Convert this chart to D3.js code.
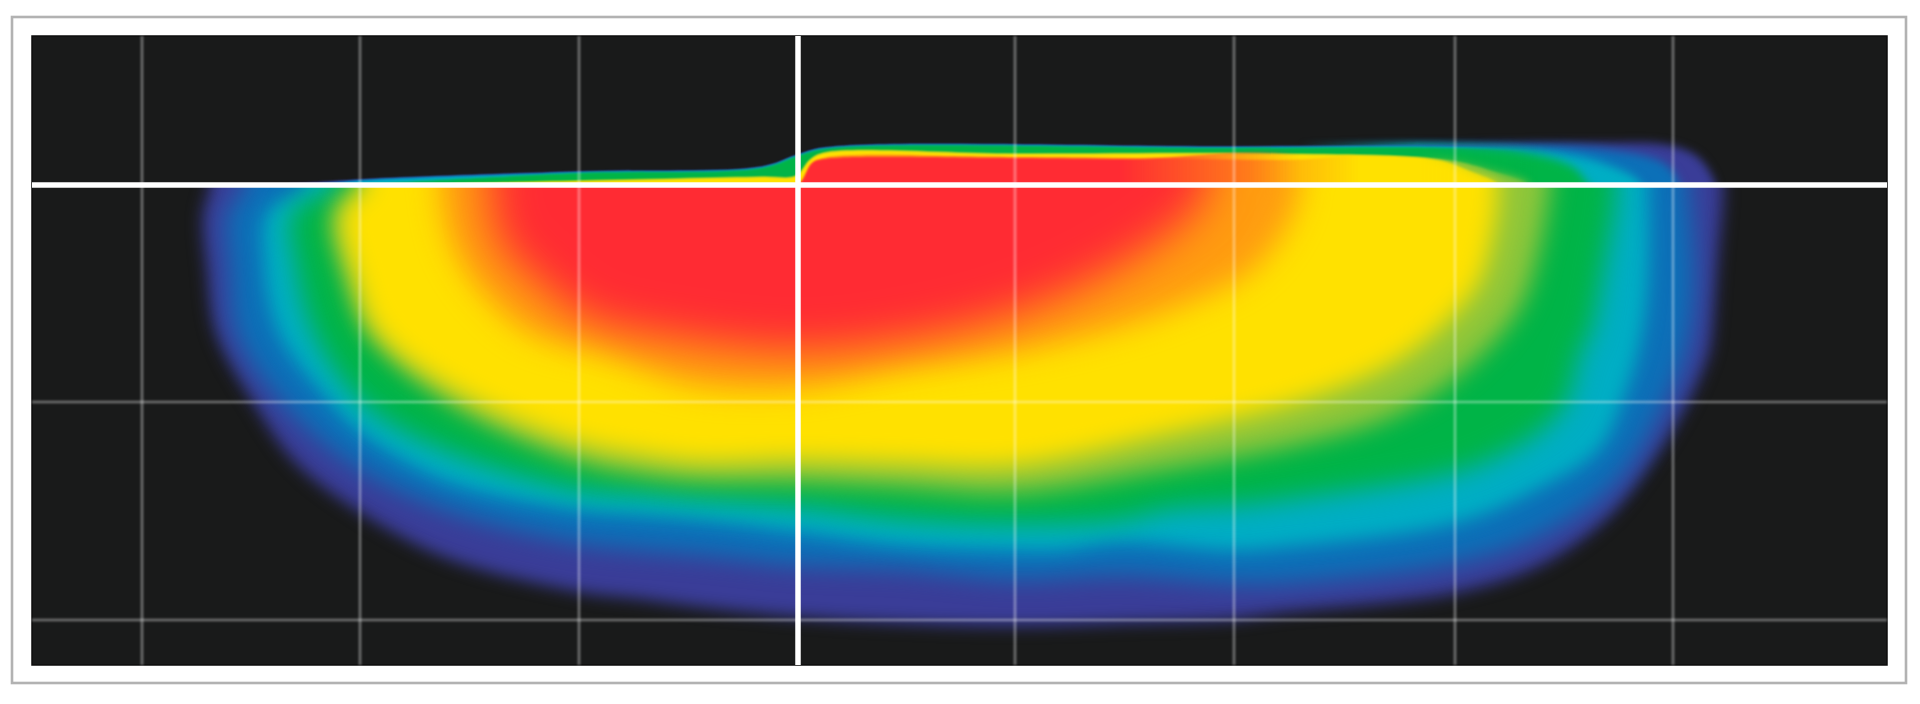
<!DOCTYPE html>
<html><head><meta charset="utf-8">
<style>html,body{margin:0;padding:0;background:#fff}svg{display:block}</style>
<script src="https://cdn.jsdelivr.net/npm/d3@7"></script>
</head><body><svg id="c" width="1920" height="704"></svg>
<script>
const xGrid=[-656,-438,-219,217,436,657,875];
const yGrid=[-217,-435];
const bandColors=["#3a3d98","#0c70b8","#00aec4","#00b447","#8fc63a","#ffe100","#ff9c10","#ff2b33"];
const lowBlur=[8,12,9,13,12,12,15,22];
const lower0=[[-588,-5],[-595,-30],[-591,-85],[-582,-148],[-545,-217],[-503,-277],[-438,-327],[-349,-374],[-219,-407],[-158,-414],[-98,-422],[0,-432],[102,-438],[217,-441],[322,-438],[436,-434],[482,-428],[657,-408],[743,-380],[808,-334],[849,-284],[890,-217],[911,-167],[914,-148],[919,-82],[925,-15],[925,-5]];
const lower1=[[-552,-5],[-570,-27],[-568,-85],[-561,-148],[-516,-217],[-442,-282],[-349,-326],[-219,-358],[-158,-365],[-98,-370],[0,-380],[102,-384],[217,-394],[322,-390],[436,-398],[482,-398],[657,-378],[743,-350],[817,-298],[866,-220],[888,-165],[896,-105],[894,-45],[890,-5]];
const lower2=[[-493,-5],[-530,-27],[-534,-75],[-519,-148],[-468,-217],[-434,-250],[-349,-297],[-219,-325],[-158,-330],[-98,-335],[0,-347],[102,-360],[217,-365],[262,-365],[322,-357],[436,-365],[482,-362],[657,-338],[743,-302],[800,-265],[824,-217],[840,-167],[848,-120],[851,-60],[850,-5]];
const lower3=[[-463,-3],[-506,-27],[-503,-75],[-484,-148],[-433,-220],[-349,-267],[-219,-305],[-158,-310],[-98,-315],[0,-322],[102,-334],[217,-339],[322,-335],[372,-324],[436,-320],[482,-315],[657,-287],[702,-270],[743,-245],[768,-217],[782,-167],[792,-148],[805,-85],[817,-15],[817,-5]];
const lowerLG=[[-438,-3],[-465,-27],[-452,-95],[-430,-148],[-342,-222],[-219,-277],[-158,-290],[-98,-296],[0,-297],[102,-302],[217,-308],[365,-285],[506,-258],[592,-232],[660,-190],[720,-125],[742,-60],[750,-15],[752,-5]];
const lower4=[[-432,-3],[-456,-27],[-442,-95],[-420,-148],[-332,-212],[-219,-258],[-158,-270],[-98,-277],[0,-275],[102,-278],[217,-280],[365,-250],[506,-215],[592,-180],[640,-145],[680,-100],[695,-50],[700,-15],[700,-5]];
const lower5=[[-358,-5],[-348,-55],[-318,-105],[-268,-148],[-198,-168],[-158,-183],[-105,-200],[0,-203],[103,-184],[217,-167],[304,-147],[372,-125],[454,-85],[492,-35],[502,-5]];
const lower6=[[-308,-5],[-306,-25],[-296,-60],[-259,-97],[-210,-133],[-137,-150],[0,-165],[128,-150],[232,-122],[330,-75],[392,-30],[410,-5]];
const upper0=[[-510,1],[-438,5.5],[-219,13.5],[-36,18.5],[-3,29.5],[26,37.5],[436,38.5],[657,40],[800,42],[870,40],[900,28],[916,5],[918,-5]];
const upper1=[[-480,1],[-438,5],[-219,13],[-36,18],[-3,29],[26,37],[436,38],[657,39],[802,36],[865,22],[880,5],[882,-5]];
const upper2=[[-460,1],[-438,4],[-219,12.2],[-36,17.2],[-3,28.2],[26,36.2],[436,37.2],[657,38],[762,32],[810,20],[840,5],[845,-5]];
const upper3=[[-430,1],[-219,12],[-36,17],[-3,28],[26,36],[436,37],[657,37],[730,32],[775,18],[790,1],[795,-5]];
const upperLG=[[-348,1],[-219,4.3],[-36,8.3],[-2,9.3],[12,25.3],[26,32.3],[217,31.3],[482,31.3],[650,25],[695,14],[730,1],[730,-5]];
const upper4=[[-348,1],[-219,4],[-36,8],[-2,9],[12,25],[26,32],[217,31],[482,31],[640,25],[672,14],[700,1],[700,-5]];
const upper5=[[-358,-2],[-8,0],[2,2],[14,20],[26,27],[217,28],[480,25],[600,24],[600,-5]];
const upper6=[[-288,-2],[-8,0],[2,2],[14,22],[26,26],[217,27],[332,26],[520,26],[520,-5]];
const lowers=[lower0,lower1,lower2,lower3,lowerLG,lower4,lower5,lower6];
const uppers=[upper0,upper1,upper2,upper3,upperLG,upper4,upper5,upper6];
const redFade=[322,502];
const orangeFade=[452,562];
const softRamp=[500,620];
const sharpRamp=[620,740];

const x=d3.scaleLinear().domain([-766,1089]).range([32,1887]);
const y=d3.scaleLinear().domain([149,-480]).range([36,665]);
const svg=d3.select("#c");
const defs=svg.append("defs");
const fl=(id,s)=>defs.append("filter").attr("id",id).attr("filterUnits","userSpaceOnUse")
  .attr("x",-100).attr("y",-100).attr("width",2200).attr("height",1000)
  .attr("color-interpolation-filters","sRGB")
  .append("feGaussianBlur").attr("stdDeviation",s);
fl("soft",0.7);fl("top",1.0);fl("topSoft",5);fl("gridBlur",0.8);
lowBlur.forEach((s,i)=>fl("b"+i,s));
const clip=(id,a,b)=>defs.append("clipPath").attr("id",id).append("rect")
  .attr("x",x.range()[0]).attr("width",x.range()[1]-x.range()[0]).attr("y",y(a)).attr("height",y(b)-y(a));
clip("clipUp",149,0);clip("clipLow",0,-480);
const grad=(id,dom,c0,o0,c1,o1)=>{
  const g=defs.append("linearGradient").attr("id",id).attr("gradientUnits","userSpaceOnUse")
    .attr("x1",x(dom[0])).attr("x2",x(dom[1])).attr("y1",0).attr("y2",0);
  g.append("stop").attr("offset",0).attr("stop-color",c0).attr("stop-opacity",o0);
  g.append("stop").attr("offset",1).attr("stop-color",c1).attr("stop-opacity",o1);
};
grad("fadeRed",redFade,bandColors[7],1,bandColors[7],0);
grad("fadeOrange",orangeFade,bandColors[6],1,bandColors[6],0);
grad("mSharp",sharpRamp,"#fff",1,"#000",1);
grad("mSoft",softRamp,"#000",1,"#fff",1);
[["maskSharp","mSharp"],["maskSoft","mSoft"]].forEach(([m,g])=>{
  defs.append("mask").attr("id",m).attr("maskUnits","userSpaceOnUse")
    .attr("x",0).attr("y",0).attr("width",1920).attr("height",704)
    .style("color-interpolation","sRGB")
    .append("rect").attr("width",1920).attr("height",704).attr("fill",`url(#${g})`);
});

const root=svg.append("g").attr("filter","url(#soft)");
root.append("rect").attr("x",12).attr("y",17).attr("width",1894).attr("height",666)
  .attr("fill","#fff").attr("stroke","#b2b2b2").attr("stroke-width",2.6);
root.append("rect").attr("x",x.range()[0]).attr("y",y.range()[0])
  .attr("width",x.range()[1]-x.range()[0]).attr("height",y.range()[1]-y.range()[0])
  .attr("fill","#191a1a").attr("stroke","#0c0c0c").attr("stroke-width",1.5);

const line=d3.line().x(d=>x(d[0])).y(d=>y(d[1])).curve(d3.curveCatmullRom.alpha(0.5));
const lowG=root.append("g").attr("clip-path","url(#clipLow)");
lowG.selectAll("path").data(lowers).join("path")
  .attr("d",d=>line(d)+"L"+x(d[d.length-1][0])+","+y(90)+"L"+x(d[0][0])+","+y(90)+"Z")
  .attr("fill",(d,i)=>bandColors[i]).attr("filter",(d,i)=>`url(#b${i})`);
const upClip=root.append("g").attr("clip-path","url(#clipUp)");
const upFill=(d,i)=>i===7?"url(#fadeRed)":i===6?"url(#fadeOrange)":bandColors[i];
[["maskSoft","topSoft"],["maskSharp","top"]].forEach(([m,f])=>{
  upClip.append("g").attr("mask",`url(#${m})`).selectAll("path").data(uppers).join("path")
    .attr("d",d=>line(d)+"L"+x(d[d.length-1][0])+","+y(-30)+"L"+x(d[0][0])+","+y(-30)+"Z")
    .attr("fill",upFill).attr("filter",`url(#${f})`);
});

const grid=root.append("g").attr("filter","url(#gridBlur)");
grid.append("g").selectAll("line").data(xGrid).join("line")
  .attr("x1",d=>x(d)).attr("x2",d=>x(d)).attr("y1",y.range()[0]).attr("y2",y.range()[1])
  .attr("stroke","#fff").attr("stroke-opacity",.38).attr("stroke-width",2.6);
grid.append("g").selectAll("line").data(yGrid).join("line")
  .attr("x1",x.range()[0]).attr("x2",x.range()[1]).attr("y1",d=>y(d)).attr("y2",d=>y(d))
  .attr("stroke","#fff").attr("stroke-opacity",.38).attr("stroke-width",2.6);
root.append("line").attr("x1",x.range()[0]).attr("x2",x.range()[1]).attr("y1",y(0)).attr("y2",y(0))
  .attr("stroke","#fff").attr("stroke-width",5.5);
root.append("line").attr("x1",x(0)).attr("x2",x(0)).attr("y1",y.range()[0]).attr("y2",y.range()[1])
  .attr("stroke","#fff").attr("stroke-width",5.5);
</script></body></html>
